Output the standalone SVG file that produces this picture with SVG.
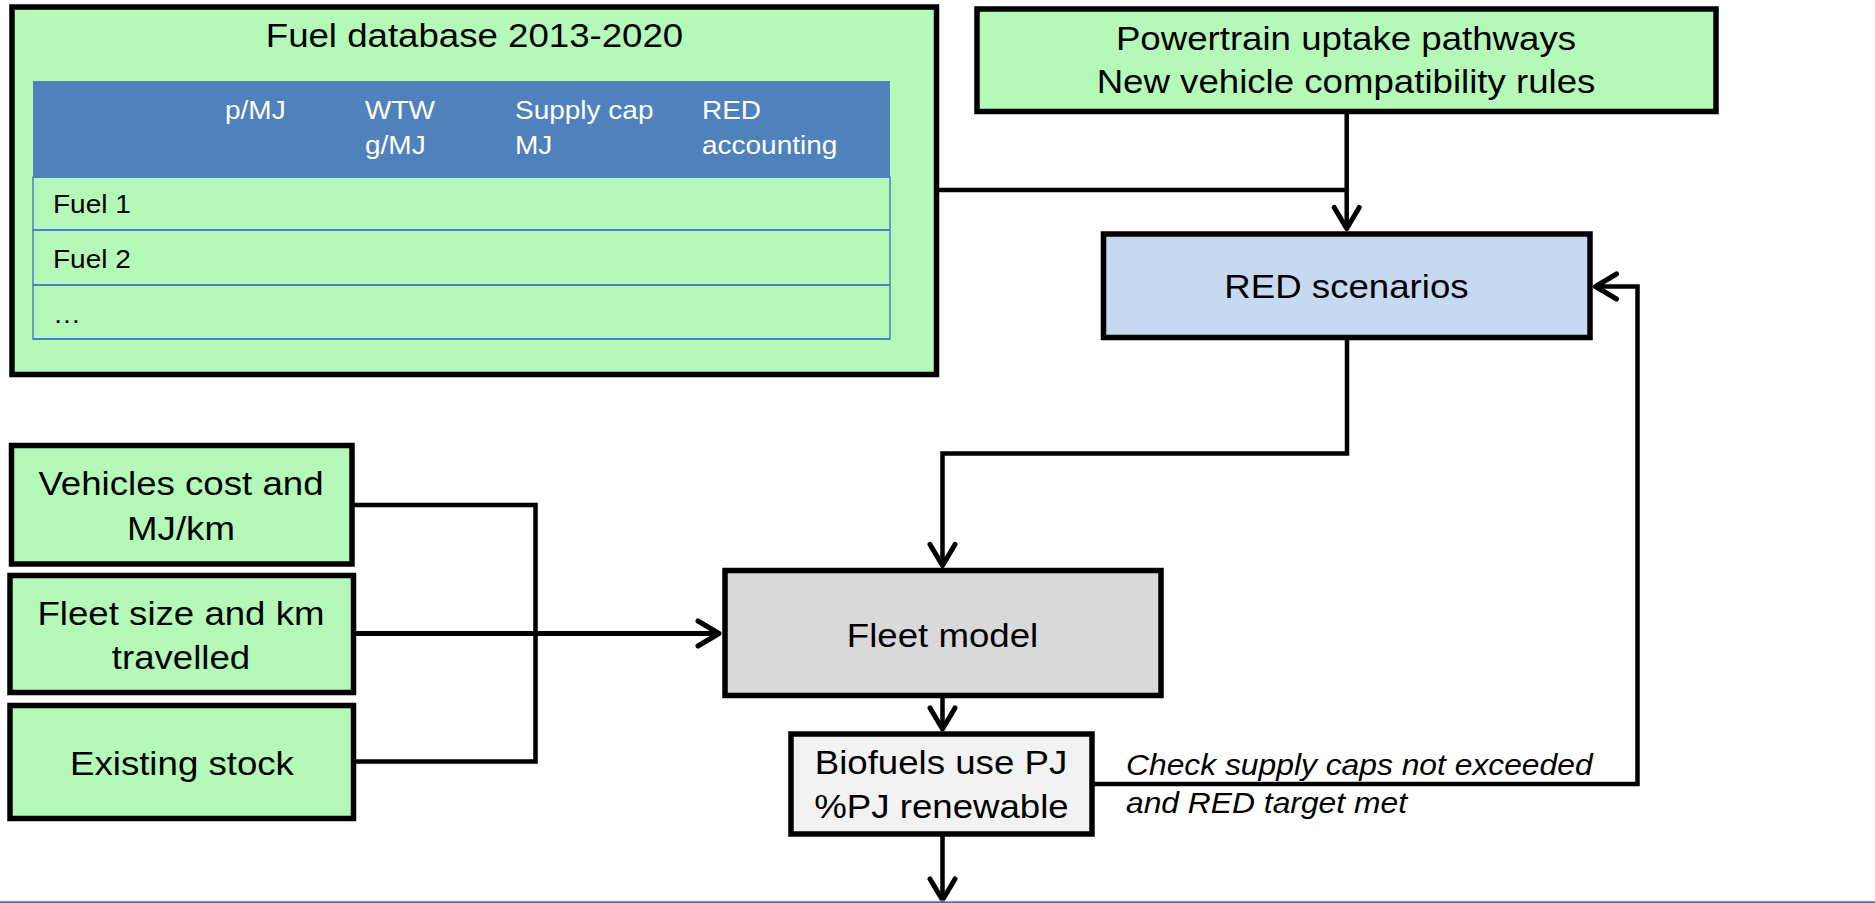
<svg xmlns="http://www.w3.org/2000/svg" width="1875" height="903" viewBox="0 0 1875 903">
<style>
  text { font-family: "Liberation Sans", Arial, sans-serif; fill: #000; }
  .big { font-size: 33px; text-anchor: middle; transform-box: fill-box; transform-origin: center; transform: scaleX(1.11); }
  .hdr { font-size: 25px; fill: #fff; transform-box: fill-box; transform-origin: left center; transform: scaleX(1.12); }
  .row { font-size: 25px; transform-box: fill-box; transform-origin: left center; transform: scaleX(1.12); }
  .note { font-size: 30px; font-style: italic; transform-box: fill-box; transform-origin: left center; transform: scaleX(1.06); }
  .box { stroke: #000; stroke-width: 5.5; }
  .green { fill: #B4F9B8; }
  .conn { fill: none; stroke: #000; stroke-width: 4.5; }
  .conn.thick { stroke-width: 5; }
  .arr { marker-end: url(#ah); }
  .tline { stroke: #4F7FC8; stroke-width: 2; }
</style>
<defs>
  <marker id="ah" markerUnits="userSpaceOnUse" viewBox="-30 -20 36 40" refX="0" refY="0" markerWidth="36" markerHeight="40" orient="auto">
    <path d="M-21,-12.5 L0,0 L-21,12.5" fill="none" stroke="#000" stroke-width="5" stroke-linecap="round" stroke-linejoin="round"/>
  </marker>
</defs>
<rect x="0" y="0" width="1875" height="903" fill="#fff"/>

<g id="connectors">
  <polyline class="conn" points="938,190 1346.7,190"/>
  <line class="conn arr" x1="1346.7" y1="113" x2="1346.7" y2="228.5"/>
  <polyline class="conn arr" points="1347,339 1347,453.5 942.5,453.5 942.5,565.5"/>
  <polyline class="conn" points="354,505 535.5,505 535.5,761.5 355,761.5"/>
  <line class="conn thick arr" x1="355" y1="633.5" x2="719" y2="633.5"/>
  <line class="conn arr" x1="942.5" y1="698" x2="942.5" y2="729"/>
  <line class="conn arr" x1="942.5" y1="836" x2="942.5" y2="900"/>
  <polyline class="conn arr" points="1094,784 1637.5,784 1637.5,286.5 1595.5,286.5"/>
</g>

<line x1="0" y1="901" x2="1875" y2="901" stroke="#C9D6E8" stroke-width="1"/>
<line x1="0" y1="902.5" x2="1875" y2="902.5" stroke="#3F6298" stroke-width="2"/>

<g id="fuel-database">
  <rect class="box green" x="12" y="7" width="924.5" height="367.5"/>
  <text class="big" x="474.5" y="47">Fuel database 2013-2020</text>
  <rect x="33" y="81" width="857" height="96" fill="#4F81BD"/>
  <rect x="33" y="177" width="857" height="162" fill="#B4F9B8" stroke="#4F7FC8" stroke-width="1.5"/>
  <line class="tline" x1="33" y1="177" x2="890" y2="177"/>
  <line class="tline" x1="33" y1="230" x2="890" y2="230"/>
  <line class="tline" x1="33" y1="285" x2="890" y2="285"/>
  <line class="tline" x1="33" y1="339" x2="890" y2="339"/>
  <text class="hdr" x="225" y="119">p/MJ</text>
  <text class="hdr" x="365" y="119">WTW</text>
  <text class="hdr" x="365" y="154">g/MJ</text>
  <text class="hdr" x="515" y="119">Supply cap</text>
  <text class="hdr" x="515" y="154">MJ</text>
  <text class="hdr" x="702" y="119">RED</text>
  <text class="hdr" x="702" y="154">accounting</text>
  <text class="row" x="53" y="213">Fuel 1</text>
  <text class="row" x="53" y="268">Fuel 2</text>
  <text class="row" x="53" y="323">…</text>
</g>

<g id="powertrain">
  <rect class="box green" x="977" y="9" width="739" height="102.5"/>
  <text class="big" x="1346" y="50">Powertrain uptake pathways</text>
  <text class="big" x="1346" y="93">New vehicle compatibility rules</text>
</g>

<g id="red-scenarios">
  <rect class="box" fill="#C6D9F1" x="1103.5" y="234" width="486.5" height="103.5"/>
  <text class="big" x="1346.5" y="298">RED scenarios</text>
</g>

<g id="vehicles-cost">
  <rect class="box green" x="11.5" y="445.5" width="340.5" height="118.5"/>
  <text class="big" x="181" y="495">Vehicles cost and</text>
  <text class="big" x="181" y="540">MJ/km</text>
</g>

<g id="fleet-size">
  <rect class="box green" x="10" y="575.5" width="343.5" height="117"/>
  <text class="big" x="181" y="625">Fleet size and km</text>
  <text class="big" x="181" y="669">travelled</text>
</g>

<g id="existing-stock">
  <rect class="box green" x="10" y="705.5" width="343.5" height="113"/>
  <text class="big" x="182" y="775">Existing stock</text>
</g>

<g id="fleet-model">
  <rect class="box" fill="#D9D9D9" x="725" y="570.5" width="436" height="125"/>
  <text class="big" x="942.5" y="647">Fleet model</text>
</g>

<g id="biofuels">
  <rect class="box" fill="#F2F2F2" x="791" y="734" width="301" height="100"/>
  <text class="big" x="941" y="774">Biofuels use PJ</text>
  <text class="big" x="941.5" y="818">%PJ renewable</text>
</g>

<g id="check-label">
  <text class="note" x="1126" y="775">Check supply caps not exceeded</text>
  <text class="note" x="1126" y="813">and RED target met</text>
</g>
</svg>
